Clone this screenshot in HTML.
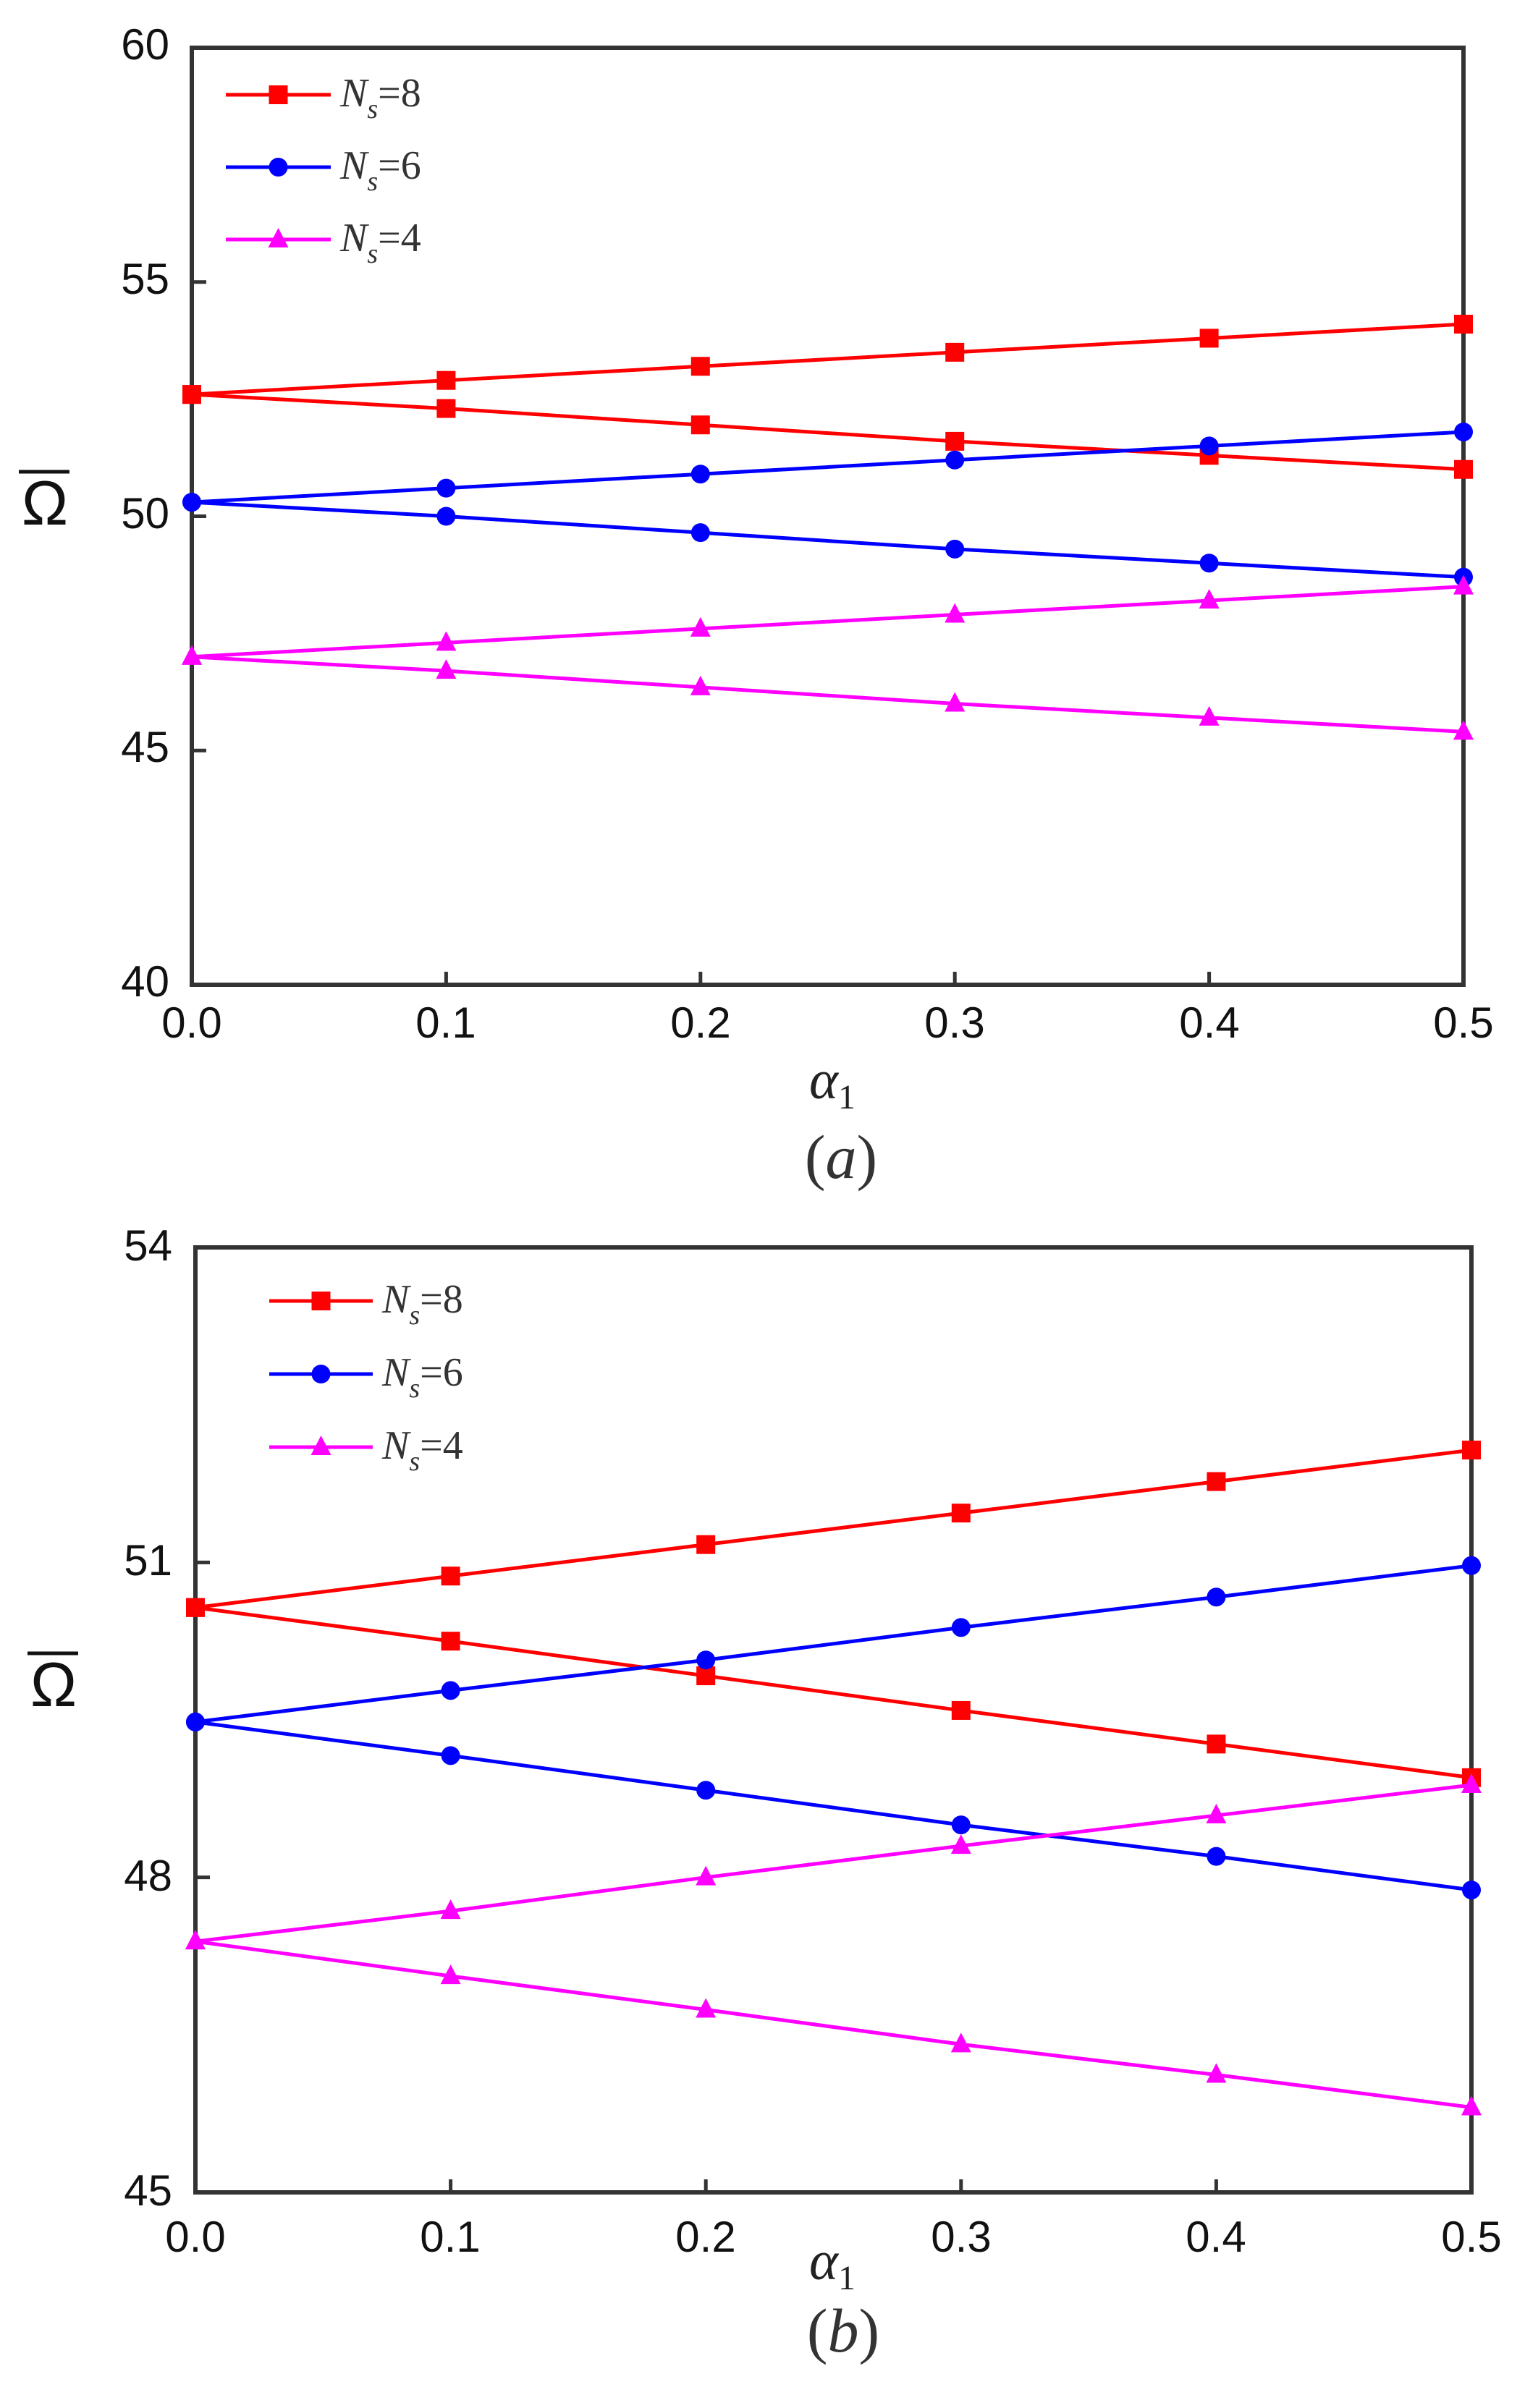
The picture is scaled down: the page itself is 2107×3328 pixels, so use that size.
<!DOCTYPE html>
<html><head><meta charset="utf-8"><style>
html,body{margin:0;padding:0;background:#fff;}
svg{display:block}
.t{font-family:"Liberation Sans",Arial,sans-serif;font-size:60px;fill:#111}
.lg{font-family:"Liberation Serif",serif;font-size:56px;fill:#333}
</style></head><body>
<svg id="s" width="2107" height="3328" viewBox="0 0 2107 3328" xmlns="http://www.w3.org/2000/svg">
<rect width="2107" height="3328" fill="#fff"/>
<g class="t" text-anchor="end">
<text x="234" y="82">60</text>
<text x="234" y="406">55</text>
<text x="234" y="730">50</text>
<text x="234" y="1053">45</text>
<text x="234" y="1377">40</text>
</g>
<g class="t" text-anchor="middle">
<text x="265" y="1434">0.0</text>
<text x="616" y="1434">0.1</text>
<text x="968" y="1434">0.2</text>
<text x="1319" y="1434">0.3</text>
<text x="1671" y="1434">0.4</text>
<text x="2022" y="1434">0.5</text>
</g>
<line x1="26" y1="652" x2="96" y2="652" stroke="#111" stroke-width="5"/>
<text x="62" y="725" text-anchor="middle" style="font-family:'Liberation Sans',sans-serif;font-size:86px;fill:#111">Ω</text>
<text x="1150" y="1518" text-anchor="middle" style="font-family:'Liberation Serif',serif;font-size:76px;font-style:italic;fill:#222">α<tspan font-size="48" dy="14" font-style="normal">1</tspan></text>
<text x="1162" y="1628" text-anchor="middle" style="font-family:'Liberation Serif',serif;font-size:86px;fill:#333">(<tspan font-style="italic">a</tspan>)</text>

<g class="t" text-anchor="end">
<text x="238" y="1742">54</text>
<text x="238" y="2177">51</text>
<text x="238" y="2613">48</text>
<text x="238" y="3048">45</text>
</g>
<g class="t" text-anchor="middle">
<text x="270" y="3112">0.0</text>
<text x="622" y="3112">0.1</text>
<text x="975" y="3112">0.2</text>
<text x="1328" y="3112">0.3</text>
<text x="1680" y="3112">0.4</text>
<text x="2033" y="3112">0.5</text>
</g>
<line x1="38" y1="2285" x2="108" y2="2285" stroke="#111" stroke-width="5"/>
<text x="74" y="2358" text-anchor="middle" style="font-family:'Liberation Sans',sans-serif;font-size:86px;fill:#111">Ω</text>
<text x="1150" y="3150" text-anchor="middle" style="font-family:'Liberation Serif',serif;font-size:76px;font-style:italic;fill:#222">α<tspan font-size="48" dy="14" font-style="normal">1</tspan></text>
<text x="1165" y="3250" text-anchor="middle" style="font-family:'Liberation Serif',serif;font-size:86px;fill:#333">(<tspan font-style="italic">b</tspan>)</text>

<g class="lg">
<text x="470" y="147"><tspan font-style="italic">N</tspan><tspan font-style="italic" font-size="38" dy="16">s</tspan><tspan dy="-16">=8</tspan></text>
<text x="470" y="247"><tspan font-style="italic">N</tspan><tspan font-style="italic" font-size="38" dy="16">s</tspan><tspan dy="-16">=6</tspan></text>
<text x="470" y="347"><tspan font-style="italic">N</tspan><tspan font-style="italic" font-size="38" dy="16">s</tspan><tspan dy="-16">=4</tspan></text>
<text x="528" y="1814"><tspan font-style="italic">N</tspan><tspan font-style="italic" font-size="38" dy="16">s</tspan><tspan dy="-16">=8</tspan></text>
<text x="528" y="1915"><tspan font-style="italic">N</tspan><tspan font-style="italic" font-size="38" dy="16">s</tspan><tspan dy="-16">=6</tspan></text>
<text x="528" y="2016"><tspan font-style="italic">N</tspan><tspan font-style="italic" font-size="38" dy="16">s</tspan><tspan dy="-16">=4</tspan></text>
</g>
<g id="g"></g>
</svg>
<script>
var NS="http://www.w3.org/2000/svg",g=document.getElementById("g");
function el(n,a){var e=document.createElementNS(NS,n);for(var k in a)e.setAttribute(k,a[k]);g.appendChild(e);return e;}
function marker(type,c,x,y){
 if(type==0)el("rect",{x:x-13,y:y-13,width:26,height:26,fill:c});
 else if(type==1)el("circle",{cx:x,cy:y,r:13,fill:c});
 else el("polygon",{points:(x)+","+(y-16)+" "+(x+14)+","+(y+11)+" "+(x-14)+","+(y+11),fill:c});
}
var cols=["#ff0000","#0000ff","#ff00ff"];
function plot(P,series,ticksY,leg){
 var X=function(t){return P.l+t*(P.r-P.l)/0.5;},Y=function(v){return P.t+(P.ymax-v)*(P.b-P.t)/(P.ymax-P.ymin);};
 el("rect",{x:P.l,y:P.t,width:P.r-P.l,height:P.b-P.t,fill:"none",stroke:"#333",'stroke-width':6});
 for(var i=1;i<5;i++){var x=X(i/10);el("line",{x1:x,y1:P.b,x2:x,y2:P.b-18,stroke:"#333",'stroke-width':5});}
 ticksY.forEach(function(v){el("line",{x1:P.l,y1:Y(v),x2:P.l+20,y2:Y(v),stroke:"#333",'stroke-width':5});});
 series.forEach(function(s,k){
  var typ=Math.floor(k/2),c=cols[typ],pts=s.map(function(v,i){return X(i/10)+","+Y(v);}).join(" ");
  el("polyline",{points:pts,fill:"none",stroke:c,'stroke-width':5});
  s.forEach(function(v,i){marker(typ,c,X(i/10),Y(v));});
 });
 leg.forEach(function(y,k){el("line",{x1:P.ll,y1:y,x2:P.lr,y2:y,stroke:cols[k],'stroke-width':5});marker(k,cols[k],(P.ll+P.lr)/2,y);});
}
plot({l:265,r:2022,t:66,b:1361,ymax:60,ymin:40,ll:312,lr:457},
 [[52.6,52.9,53.2,53.5,53.8,54.1],[52.6,52.3,51.95,51.6,51.3,51.0],
  [50.3,50.6,50.9,51.2,51.5,51.8],[50.3,50.0,49.65,49.3,49.0,48.7],
  [47.0,47.3,47.6,47.9,48.2,48.5],[47.0,46.7,46.35,46.0,45.7,45.4]],[55,50,45],[131,231,331]);
plot({l:270,r:2033,t:1724,b:3030,ymax:54,ymin:45,ll:372,lr:515},
 [[50.57,50.87,51.17,51.47,51.77,52.07],[50.57,50.25,49.92,49.59,49.27,48.95],
  [49.48,49.78,50.07,50.38,50.67,50.97],[49.48,49.16,48.83,48.5,48.2,47.88],
  [47.39,47.68,48.0,48.3,48.59,48.88],[47.39,47.06,46.74,46.41,46.12,45.81]],[51,48],[1798,1899,2000]);
</script>
</body></html>
